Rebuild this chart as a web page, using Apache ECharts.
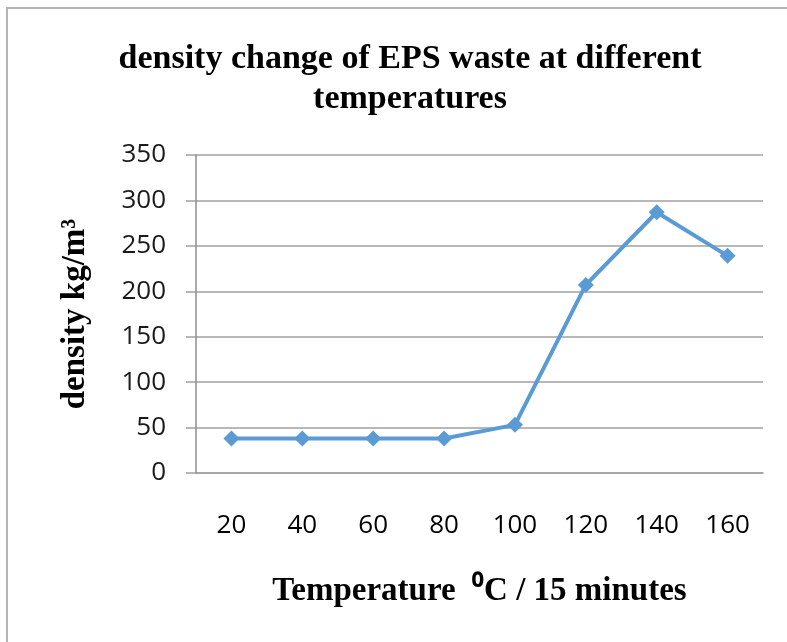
<!DOCTYPE html>
<html>
<head>
<meta charset="utf-8">
<script src="https://cdn.jsdelivr.net/npm/echarts@6/dist/echarts.min.js"></script>
<style>
  html, body { margin: 0; padding: 0; background: #fff; }
  #chart { width: 787px; height: 642px; }
</style>
</head>
<body>
<div id="chart"></div>
<script>
const TEMPERATURES = ['20', '40', '60', '80', '100', '120', '140', '160'];
const DENSITY = [38, 38, 38, 38, 53, 207, 287, 239];
const Y_MIN = 0;
const Y_MAX = 350;
const Y_STEP = 50;

const chart = echarts.init(document.getElementById('chart'));

const option = {
    animation: false,
    backgroundColor: '#fff',
    graphic: [{
        type: 'polyline',
        shape: { points: [[7, 642], [7, 8], [787, 8]] },
        style: { stroke: '#b4b4b4', lineWidth: 2, fill: null }
    }],
    title: {
        text: 'density change of EPS waste at different\ntemperatures',
        left: 405,
        top: 34,
        textAlign: 'center',
        textStyle: {
            fontFamily: 'Liberation Serif',
            fontWeight: 'bold',
            fontSize: 34,
            lineHeight: 40,
            color: '#000'
        }
    },
    grid: {
        left: 196,
        right: 24,
        top: 155,
        bottom: 169
    },
    xAxis: {
        type: 'category',
        data: TEMPERATURES,
        boundaryGap: true,
        name: 'Temperature  \u2070C / 15 minutes',
        nameLocation: 'middle',
        nameGap: 102,
        nameTextStyle: {
            fontFamily: 'Liberation Serif',
            fontWeight: 'bold',
            fontSize: 33,
            color: '#000'
        },
        axisLine: { lineStyle: { color: '#a0a0a0', width: 1.5 } },
        axisTick: { show: false },
        axisLabel: {
            margin: 40,
            fontFamily: 'Open Sans',
            fontSize: 26,
            color: '#000'
        }
    },
    yAxis: {
        type: 'value',
        min: Y_MIN,
        max: Y_MAX,
        interval: Y_STEP,
        name: 'density kg/m\u00b3',
        nameLocation: 'middle',
        nameGap: 104,
        nameRotate: 90,
        nameTextStyle: {
            fontFamily: 'Liberation Serif',
            fontWeight: 'bold',
            fontSize: 33,
            color: '#000'
        },
        axisLine: { show: true, lineStyle: { color: '#8c8c8c', width: 1.5 } },
        axisTick: { show: true, length: 10, lineStyle: { color: '#a0a0a0', width: 1.5 } },
        splitLine: { lineStyle: { color: '#a0a0a0', width: 1.5 } },
        axisLabel: {
            margin: 30,
            fontFamily: 'Open Sans',
            fontSize: 26,
            color: '#1a1a1a'
        }
    },
    series: [{
        type: 'line',
        data: DENSITY,
        symbol: 'diamond',
        symbolSize: 16,
        lineStyle: { color: '#5b9bd5', width: 4 },
        itemStyle: { color: '#5b9bd5' }
    }]
};

chart.setOption(option);
</script>
</body>
</html>
